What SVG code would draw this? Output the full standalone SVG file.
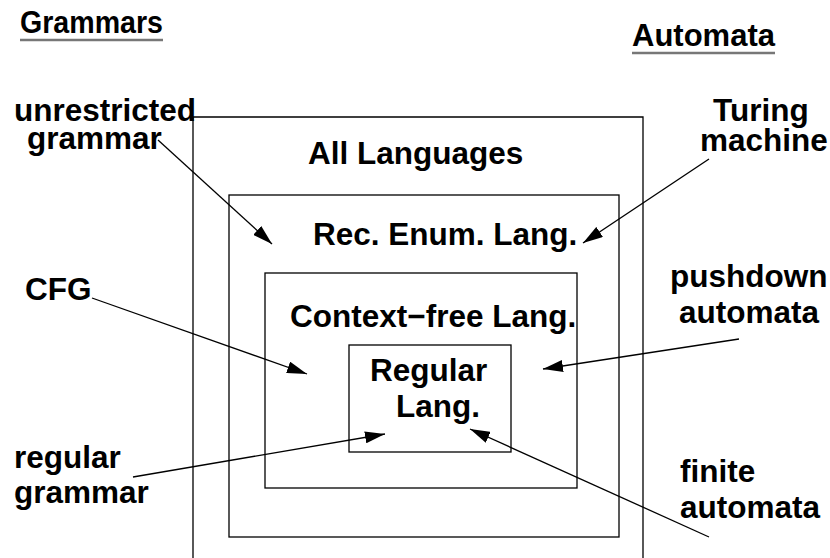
<svg xmlns="http://www.w3.org/2000/svg" width="830" height="558" viewBox="0 0 830 558">
<defs>
<style>
text{font-family:"Liberation Sans",Arial,Helvetica,sans-serif;font-weight:bold;fill:#000;font-size:31.5px}
.title{font-size:32px}
.box{fill:none;stroke:#000;stroke-width:1.3}
.uline{stroke:#777;stroke-width:2.5}
.conn{stroke:#000;stroke-width:1.3;fill:none;marker-end:url(#ah)}
</style>
<marker id="ah" viewBox="0 0 20 12" refX="20" refY="6" markerWidth="20" markerHeight="12" markerUnits="userSpaceOnUse" orient="auto">
<path d="M0,0 L20,6 L0,12 Z" fill="#000"/>
</marker>
</defs>
<g id="titles">
<text class="title" x="20" y="33" textLength="143" lengthAdjust="spacingAndGlyphs">Grammars</text>
<line class="uline" x1="20" y1="40" x2="163" y2="40"/>
<text class="title" x="632" y="46" textLength="143" lengthAdjust="spacingAndGlyphs">Automata</text>
<line class="uline" x1="632" y1="53" x2="775" y2="53"/>
</g>
<g id="all-languages">
<path class="box" d="M193,560 V117 H643 V560"/>
<text x="308" y="164">All Languages</text>
</g>
<g id="rec-enum">
<rect class="box" x="229" y="195" width="390" height="342"/>
<text x="313" y="245">Rec. Enum. Lang.</text>
</g>
<g id="context-free">
<rect class="box" x="265" y="273" width="312" height="215"/>
<text x="290" y="327">Context−free Lang.</text>
</g>
<g id="regular">
<rect class="box" x="349" y="345" width="162" height="107"/>
<text x="370" y="381">Regular</text>
<text x="396" y="417">Lang.</text>
</g>
<g id="unrestricted-grammar">
<text x="14" y="121">unrestricted</text>
<text x="27" y="149">grammar</text>
</g>
<g id="turing-machine">
<text x="713" y="121">Turing</text>
<text x="700" y="151">machine</text>
</g>
<g id="cfg">
<text x="25" y="300">CFG</text>
</g>
<g id="pushdown-automata">
<text x="670" y="287">pushdown</text>
<text x="679" y="323">automata</text>
</g>
<g id="regular-grammar">
<text x="14" y="468">regular</text>
<text x="14" y="503">grammar</text>
</g>
<g id="finite-automata">
<text x="680" y="482">finite</text>
<text x="680" y="518">automata</text>
</g>
<g id="connectors">
<line class="conn" x1="158" y1="140" x2="272" y2="244"/>
<line class="conn" x1="709" y1="159" x2="583" y2="243"/>
<line class="conn" x1="92" y1="298" x2="307" y2="374"/>
<line class="conn" x1="739" y1="339" x2="543" y2="369"/>
<line class="conn" x1="133" y1="477" x2="385" y2="434"/>
<line class="conn" x1="709" y1="537" x2="470" y2="429"/>
</g>
</svg>
